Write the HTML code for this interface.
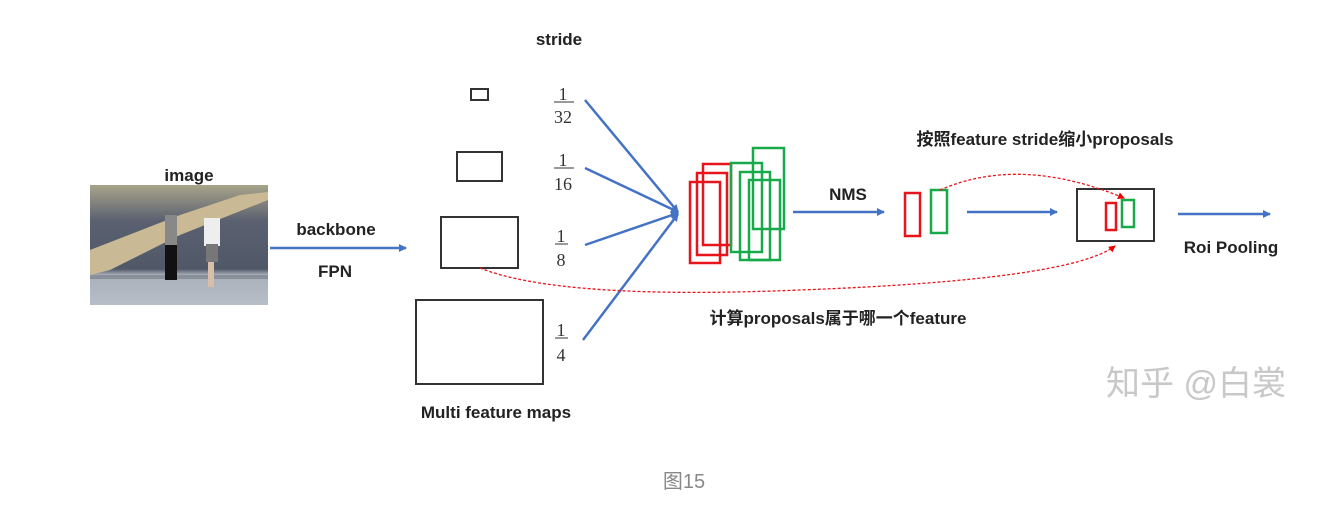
<!DOCTYPE html>
<html><head><meta charset="utf-8"><style>
html,body{margin:0;padding:0;background:#fff;}
svg{display:block}
text{font-family:"Liberation Sans","Noto Sans CJK SC",sans-serif;font-weight:bold;fill:#222;font-size:17px}
.f{font-family:"Liberation Serif",serif;font-weight:normal;font-size:18px;fill:#333}
</style></head><body>
<svg width="1334" height="512" viewBox="0 0 1334 512" xmlns="http://www.w3.org/2000/svg">
<defs>
<marker id="a" markerWidth="8" markerHeight="8" refX="7" refY="4" orient="auto" markerUnits="userSpaceOnUse"><path d="M0,0 L8,4 L0,8 Z" fill="#4472c4"/></marker>
<marker id="r" markerWidth="7" markerHeight="7" refX="6" refY="3.5" orient="auto" markerUnits="userSpaceOnUse"><path d="M0,0 L7,3.5 L0,7 Z" fill="#e00"/></marker>
<linearGradient id="sky" x1="0" y1="0" x2="0" y2="1">
<stop offset="0" stop-color="#a8a48a"/><stop offset="0.3" stop-color="#5a6070"/><stop offset="0.7" stop-color="#505868"/><stop offset="0.75" stop-color="#a9b0ba"/><stop offset="1" stop-color="#b7bec8"/></linearGradient>
</defs>
<!-- image -->
<text x="189" y="181" text-anchor="middle">image</text>
<rect x="90" y="185" width="178" height="120" fill="url(#sky)"/>
<polygon points="90,250 180,215 240,195 268,192 268,200 180,235 110,270 90,275" fill="#c9b995"/>
<rect x="90" y="275" width="178" height="4" fill="#8a909a"/>
<rect x="165" y="215" width="12" height="32" fill="#888"/><rect x="165" y="245" width="12" height="35" fill="#111"/>
<rect x="204" y="218" width="16" height="28" fill="#eee"/><rect x="206" y="244" width="12" height="18" fill="#777"/><rect x="208" y="262" width="6" height="25" fill="#d8c0a8"/>
<line x1="270" y1="248" x2="406" y2="248" stroke="#4472c4" stroke-width="2.5" marker-end="url(#a)"/>
<text x="336" y="235" text-anchor="middle">backbone</text>
<text x="335" y="277" text-anchor="middle">FPN</text>
<!-- feature maps -->
<text x="559" y="45" text-anchor="middle">stride</text>
<g fill="none" stroke="#333" stroke-width="2">
<rect x="471" y="89" width="17" height="11"/>
<rect x="457" y="152" width="45" height="29"/>
<rect x="441" y="217" width="77" height="51"/>
<rect x="416" y="300" width="127" height="84"/>
</g>
<g class="f" text-anchor="middle">
<text class="f" x="563" y="100">1</text><text class="f" x="563" y="123">32</text>
<text class="f" x="563" y="166">1</text><text class="f" x="563" y="190">16</text>
<text class="f" x="561" y="242">1</text><text class="f" x="561" y="266">8</text>
<text class="f" x="561" y="336">1</text><text class="f" x="561" y="361">4</text>
</g>
<g stroke="#333" stroke-width="1"><line x1="554" y1="102" x2="574" y2="102"/><line x1="554" y1="168" x2="574" y2="168"/><line x1="555" y1="244" x2="568" y2="244"/><line x1="555" y1="338" x2="568" y2="338"/></g>
<text x="496" y="418" text-anchor="middle">Multi feature maps</text>
<g stroke="#4472c4" stroke-width="2.5" fill="none" marker-end="url(#a)">
<line x1="585" y1="100" x2="678" y2="212"/>
<line x1="585" y1="168" x2="678" y2="212"/>
<line x1="585" y1="245" x2="678" y2="213"/>
<line x1="583" y1="340" x2="678" y2="214"/>
</g>
<!-- proposals -->
<g fill="none" stroke="#e8141c" stroke-width="2.5">
<rect x="690" y="182" width="30" height="81"/>
<rect x="697" y="173" width="30" height="82"/>
<rect x="703" y="164" width="28" height="81"/>
</g>
<g fill="none" stroke="#17a94a" stroke-width="2.5">
<rect x="731" y="163" width="31" height="89"/>
<rect x="740" y="172" width="30" height="88"/>
<rect x="753" y="148" width="31" height="81"/>
<rect x="749" y="180" width="31" height="80"/>
</g>
<line x1="793" y1="212" x2="884" y2="212" stroke="#4472c4" stroke-width="2.5" marker-end="url(#a)"/>
<text x="848" y="200" text-anchor="middle">NMS</text>
<rect x="905" y="193" width="15" height="43" fill="none" stroke="#e8141c" stroke-width="2.5"/>
<rect x="931" y="190" width="16" height="43" fill="none" stroke="#17a94a" stroke-width="2.5"/>
<line x1="967" y1="212" x2="1057" y2="212" stroke="#4472c4" stroke-width="2.5" marker-end="url(#a)"/>
<text x="1045" y="145" text-anchor="middle">按照feature stride缩小proposals</text>
<rect x="1077" y="189" width="77" height="52" fill="none" stroke="#333" stroke-width="2"/>
<rect x="1106" y="203" width="10" height="27" fill="none" stroke="#e8141c" stroke-width="2.5"/>
<rect x="1122" y="200" width="12" height="27" fill="none" stroke="#17a94a" stroke-width="2.5"/>
<path d="M940,190 Q1020,155 1124,198" fill="none" stroke="#e8141c" stroke-width="1.3" stroke-dasharray="3,2" marker-end="url(#r)"/>
<path d="M480,268 Q560,300 800,290 Q1070,280 1115,246" fill="none" stroke="#e8141c" stroke-width="1.3" stroke-dasharray="3,2" marker-end="url(#r)"/>
<text x="838" y="324" text-anchor="middle">计算proposals属于哪一个feature</text>
<line x1="1178" y1="214" x2="1270" y2="214" stroke="#4472c4" stroke-width="2.5" marker-end="url(#a)"/>
<text x="1231" y="253" text-anchor="middle">Roi Pooling</text>
<text x="1196" y="395" text-anchor="middle" style="font-size:34px;font-weight:normal;fill:#c8c8c8">知乎 @白裳</text>
<text x="684" y="488" text-anchor="middle" style="font-size:20px;font-weight:normal;fill:#888">图15</text>
</svg>
</body></html>
